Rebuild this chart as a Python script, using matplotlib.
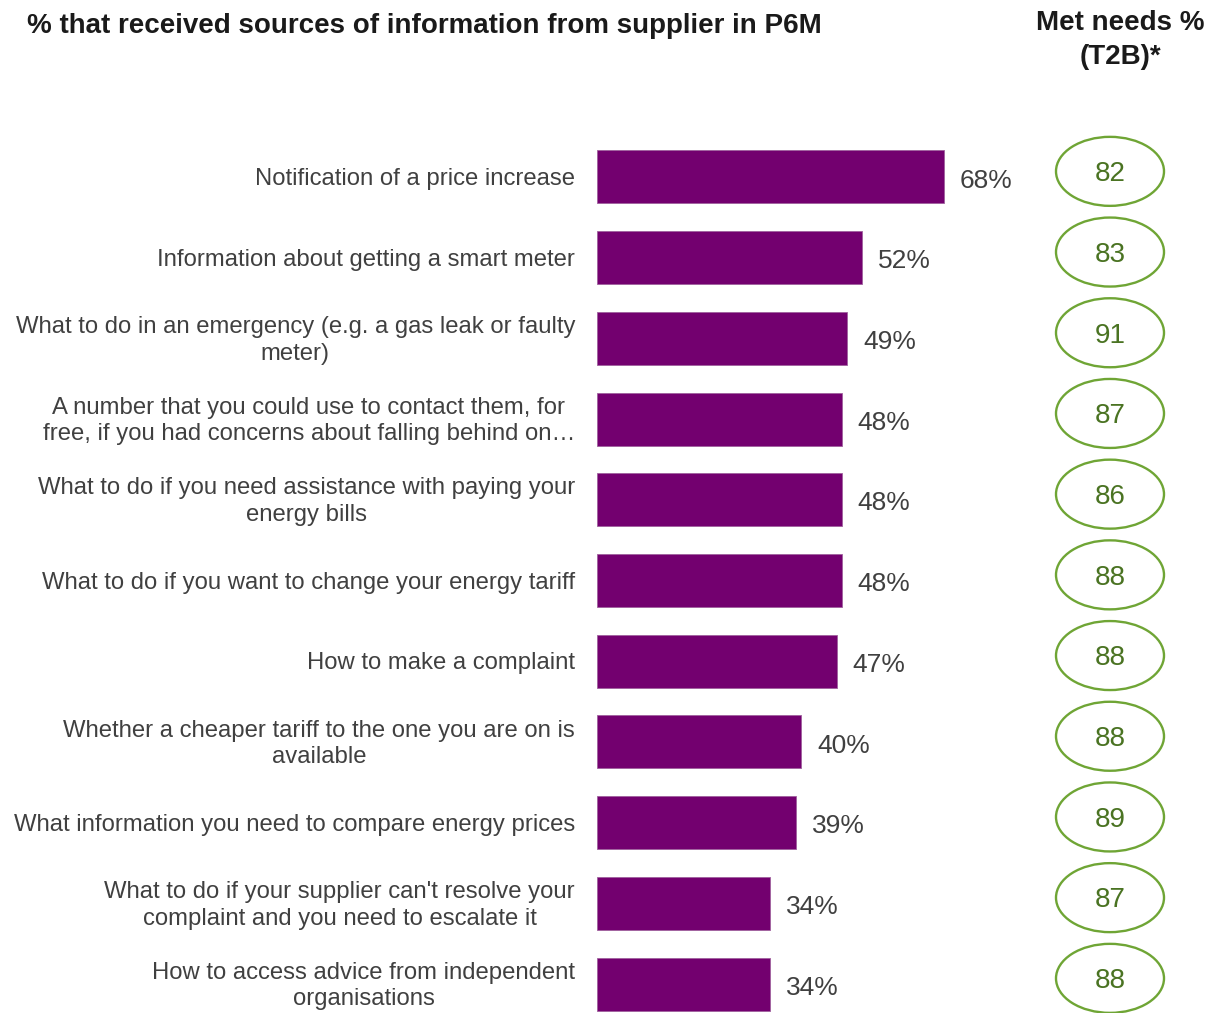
import matplotlib
matplotlib.use("Agg")
import matplotlib.pyplot as plt
from matplotlib.patches import Ellipse

plt.rcParams['font.family'] = ['Liberation Sans', 'DejaVu Sans']

categories = [
    "Notification of a price increase",
    "Information about getting a smart meter",
    "What to do in an emergency (e.g. a gas leak or faulty\nmeter)",
    "A number that you could use to contact them, for\nfree, if you had concerns about falling behind on\u2026",
    "What to do if you need assistance with paying your\nenergy bills",
    "What to do if you want to change your energy tariff",
    "How to make a complaint",
    "Whether a cheaper tariff to the one you are on is\navailable",
    "What information you need to compare energy prices",
    "What to do if your supplier can't resolve your\ncomplaint and you need to escalate it",
    "How to access advice from independent\norganisations",
]
received_pct = [68, 52, 49, 48, 48, 48, 47, 40, 39, 34, 34]
met_needs = [82, 83, 91, 87, 86, 88, 88, 88, 89, 87, 88]

title_left = "% that received sources of information from supplier in P6M"
title_right = "Met needs %\n(T2B)*"

BAR = "#73006f"
TXT = "#404040"
RING = "#6fa535"
RING_TXT = "#4a7322"

W, H = 1207, 1013
fig = plt.figure(figsize=(W / 100, H / 100), dpi=100)

# axes: x from the bar baseline to the right edge, rows centred at 177px .. 984px
px_per_unit = 5.1
x0 = 597
row_gap = (984 - 177) / 10.0
top_px = 177 - 0.5 * row_gap
bot_px = 984 + 0.5 * row_gap
ax = fig.add_axes([x0 / W, (H - bot_px) / H, (W - x0) / W, (bot_px - top_px) / H])
xmax = (W - x0) / px_per_unit
ax.set_xlim(0, xmax)
ax.set_ylim(len(categories) - 0.5, -0.5)
ax.axis("off")

ypos = list(range(len(categories)))
ax.barh(ypos, received_pct, height=53 / row_gap, color=BAR, edgecolor="#a0609e",
        linewidth=0.6)

for y, v in zip(ypos, received_pct):
    ax.text(v + 16 / px_per_unit, y + 0.045, f"{v}%", ha="left", va="center",
            fontsize=19, color=TXT)

for y, lab in zip(ypos, categories):
    ax.text(-22 / px_per_unit, y + 0.025, lab, ha="right", va="center",
            fontsize=17.2, color=TXT, multialignment="center", linespacing=1.28,
            clip_on=False)

cx = (1110 - x0) / px_per_unit
ew = 108 / px_per_unit
eh = 69 / row_gap
for y, m in zip(ypos, met_needs):
    ax.add_patch(Ellipse((cx, y - 0.07), ew, eh, facecolor="white",
                         edgecolor=RING, linewidth=1.7, clip_on=False))
    ax.text(cx, y - 0.035, str(m), ha="center", va="center", fontsize=20,
            color=RING_TXT)

fig.text(27 / W, 1 - 26 / H, title_left, ha="left", va="center", fontsize=20,
         fontweight="bold", color="#1a1a1a")
fig.text(1120 / W, 1 - 40 / H, title_right, ha="center", va="center",
         fontsize=20, fontweight="bold", color="#1a1a1a", linespacing=1.38)

fig.savefig("out.png", dpi=100)
